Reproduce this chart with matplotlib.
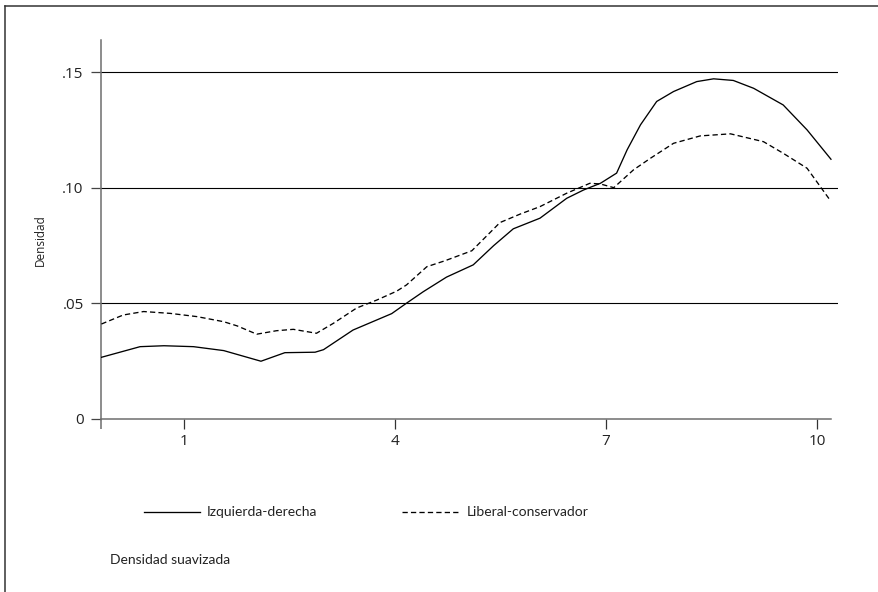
import matplotlib.pyplot as plt
from matplotlib.lines import Line2D

# Densidad suavizada de dos escalas ideologicas
SERIES_NAMES = ["Izquierda-derecha", "Liberal-conservador"]

IZQ_DER_X = [-0.18, 0.37, 0.71, 1.13, 1.56, 2.09, 2.43, 2.86, 2.98, 3.40, 3.95,
             4.16, 4.40, 4.73, 5.11, 5.40, 5.68, 6.06, 6.44, 6.68, 6.92, 7.15,
             7.30, 7.49, 7.72, 7.96, 8.29, 8.53, 8.81, 9.10, 9.52, 9.86, 10.20]
IZQ_DER_Y = [0.0267, 0.0313, 0.0317, 0.0313, 0.0296, 0.0250, 0.0287, 0.0289,
             0.0300, 0.0385, 0.0456, 0.0501, 0.0551, 0.0614, 0.0667, 0.0750,
             0.0823, 0.0869, 0.0955, 0.0991, 0.1020, 0.1064, 0.1165, 0.1273,
             0.1374, 0.1417, 0.1460, 0.1472, 0.1465, 0.1431, 0.1359, 0.1251,
             0.1124]

LIB_CON_X = [-0.18, 0.13, 0.42, 0.80, 1.18, 1.56, 1.75, 2.03, 2.31, 2.55, 2.88,
             3.12, 3.45, 3.74, 4.02, 4.16, 4.45, 4.71, 5.09, 5.35, 5.49, 5.78,
             6.06, 6.44, 6.77, 6.92, 7.11, 7.39, 7.63, 7.96, 8.34, 8.77, 9.24,
             9.52, 9.86, 10.18]
LIB_CON_Y = [0.0411, 0.0450, 0.0465, 0.0457, 0.0443, 0.0421, 0.0403, 0.0367,
             0.0382, 0.0388, 0.0371, 0.0414, 0.0480, 0.0515, 0.0553, 0.0580,
             0.0659, 0.0685, 0.0728, 0.0807, 0.0850, 0.0887, 0.0919, 0.0977,
             0.1020, 0.1017, 0.1001, 0.1078, 0.1128, 0.1193, 0.1225, 0.1234,
             0.1200, 0.1150, 0.1085, 0.0950]

X_TICKS = [1, 4, 7, 10]
Y_TICKS = [0, 0.05, 0.10, 0.15]
Y_TICK_LABELS = ["0", ".05", ".10", ".15"]

W, H = 879, 592
DASHES = (0, (4.0, 2.4))
AXIS_GRAY = "#6e6e6e"

plt.rcParams["font.family"] = ["Open Sans", "DejaVu Sans"]

fig = plt.figure(figsize=(W / 100, H / 100), dpi=100)
fig.patch.set_facecolor("white")

# outer frame (top and left edges visible in the reference)
fig.add_artist(Line2D([5 / W, 5 / W], [0, 1 - 6 / H], transform=fig.transFigure,
                      color="#333333", linewidth=1.1))
fig.add_artist(Line2D([5 / W, 1], [1 - 6 / H, 1 - 6 / H], transform=fig.transFigure,
                      color="#333333", linewidth=1.1))

ax = fig.add_axes([101 / W, 1 - 419 / H, (838 - 101) / W, (419 - 40) / H])
ax.set_xlim(-0.186, 10.30)
ax.set_ylim(0, 0.164)

for y in Y_TICKS[1:]:
    ax.axhline(y, color="black", linewidth=0.8, zorder=1)

ax.plot(IZQ_DER_X, IZQ_DER_Y, color="black", linewidth=0.95, zorder=3)
ax.plot(LIB_CON_X, LIB_CON_Y, color="black", linewidth=0.95,
        linestyle=DASHES, zorder=3)

for side in ("top", "right"):
    ax.spines[side].set_visible(False)
for side in ("left", "bottom"):
    ax.spines[side].set_color(AXIS_GRAY)
    ax.spines[side].set_linewidth(1.1)
ax.spines["bottom"].set_bounds(-0.186, 10.20)

ax.set_xticks(X_TICKS)
ax.set_xticklabels([str(v) for v in X_TICKS])
ax.set_xticks([-0.186], minor=True)
ax.set_yticks(Y_TICKS)
ax.set_yticklabels(Y_TICK_LABELS)

ax.tick_params(axis="x", which="major", length=7.5, width=0.9, color="#333333",
               pad=3, labelsize=11, labelcolor="#222222")
ax.tick_params(axis="x", which="minor", length=7.5, width=1.1, color=AXIS_GRAY)
ax.tick_params(axis="y", length=7.5, width=0.9, color="#444444", pad=5,
               labelsize=11, labelcolor="#222222")

fig.text(40 / W, 1 - 240 / H, "Densidad", rotation=90, ha="center",
         va="center", fontsize=8.5, color="#222222")

# legend drawn by hand to match the layout
legend_items = [
    (144, 200, 207, "-"),
    (402, 458, 467, DASHES),
]
leg_y = 1 - 512 / H
for name, (x0, x1, xt, style) in zip(SERIES_NAMES, legend_items):
    fig.add_artist(Line2D([x0 / W, x1 / W], [leg_y, leg_y],
                          transform=fig.transFigure, color="black",
                          linewidth=0.95, linestyle=style))
    fig.text(xt / W, leg_y, name, ha="left", va="center", fontsize=10,
             family=["Lato", "DejaVu Sans"], color="#222222")

fig.text(110 / W, 1 - 560 / H, "Densidad suavizada", ha="left", va="center",
         fontsize=10, family=["Lato", "DejaVu Sans"], color="#222222")

fig.savefig("out.png", dpi=100)
